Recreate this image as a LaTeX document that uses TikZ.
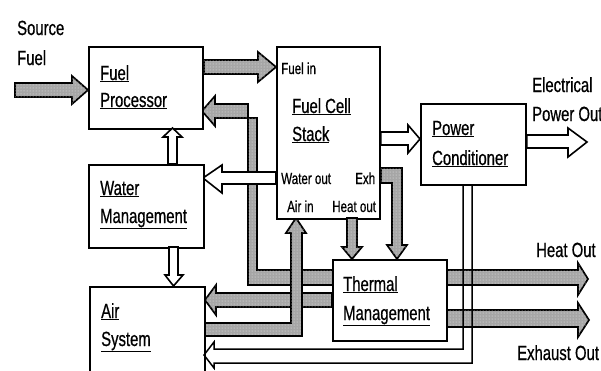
\documentclass[tikz,border=0pt]{standalone}
\usepackage{fontspec}
\setmainfont{Liberation Sans}[FakeStretch=0.725,FakeBold=0.6]
\usetikzlibrary{patterns}
\begin{document}
\begin{tikzpicture}[x=1pt,y=-1pt,
  box/.style={draw, line width=1.9pt, fill=white, inner sep=0pt, anchor=north west},
  big/.style={font=\fontsize{20.5}{24}\selectfont, inner sep=0pt, anchor=base west},
  small/.style={font=\fontsize{16}{19}\selectfont, inner sep=0pt, anchor=base west},
  garrow/.style={draw, line width=1.7pt, fill=gray!70, line join=miter,
    postaction={pattern=dots, pattern color=gray!15}},
  warrow/.style={draw, line width=1.6pt, fill=white, line join=miter},
  pipe/.style={draw, line width=1.5pt, line join=miter}]
\useasboundingbox (0,0) rectangle (601,370);
\clip (0,0) rectangle (601,370);

% named boxes (positions)
\coordinate (fpNW) at (88,46);
\coordinate (fcsNW) at (276,46);
\coordinate (pcNW) at (420,103);
\coordinate (wmNW) at (88,164);
\coordinate (asNW) at (89,286);
\coordinate (tmNW) at (332,259);

% grey band: thermal -> fuel processor, and heat out
\path[garrow] (588,279) -- (578,263) -- (578,270) -- (257,270) -- (257,118)
  -- (215,118) -- (215,126) -- (202,111) -- (215,96) -- (215,104)
  -- (248,104) -- (248,285) -- (578,285) -- (578,295) -- cycle;
% thermal -> air system
\path[garrow] (332,293) -- (216,293) -- (216,285) -- (205,300) -- (216,315)
  -- (216,307) -- (332,307) -- cycle;
% exhaust out
\path[garrow] (446,310) -- (578,310) -- (578,303) -- (589,320) -- (578,337)
  -- (578,327) -- (446,327) -- cycle;
% air in
\path[garrow] (204,323) -- (291,323) -- (291,233) -- (286,233) -- (296,218)
  -- (306,233) -- (302,233) -- (302,336) -- (204,336) -- cycle;
% water out
\path[warrow] (276,172) -- (222,172) -- (222,165) -- (203,178) -- (222,193)
  -- (222,184) -- (276,184) -- cycle;

% boxes
\node[box, minimum width=114pt, minimum height=82pt] (fp) at (fpNW) {};
\node[box, minimum width=103pt, minimum height=172pt] (fcs) at (fcsNW) {};
\node[box, minimum width=105pt, minimum height=81pt] (pc) at (pcNW) {};
\node[box, minimum width=115pt, minimum height=83pt] (wm) at (wmNW) {};
\node[box, minimum width=115pt, minimum height=110pt] (as) at (asNW) {};
\node[box, minimum width=114pt, minimum height=81pt] (tm) at (tmNW) {};

% source fuel
\path[garrow] (15,83) -- (72,83) -- (72,76) -- (fp.west |- 0,90) -- (72,104)
  -- (72,97) -- (15,97) -- cycle;
% fuel in
\path[garrow] (fp.east |- 0,60) -- (258,60) -- (258,52) -- (fcs.west |- 0,67)
  -- (258,82) -- (258,74) -- (fp.east |- 0,74) -- cycle;
% heat out (stack -> thermal)
\path[garrow] (347,218) -- (347,247) -- (342,247) -- (352,259) -- (362,247)
  -- (357,247) -- (357,218) -- cycle;
% exh
\path[garrow] (fcs.east |- 0,168) -- (402,168) -- (402,245) -- (407,245)
  -- (397,259) -- (387,245) -- (392,245) -- (392,183) -- (fcs.east |- 0,183) -- cycle;
% stack -> power conditioner
\path[warrow] (fcs.east |- 0,132) -- (408,132) -- (408,125) -- (pc.west |- 0,139)
  -- (408,153) -- (408,145) -- (fcs.east |- 0,145) -- cycle;
% electrical power out
\path[warrow] (pc.east |- 0,135) -- (568,135) -- (568,128) -- (587,142)
  -- (568,157) -- (568,148) -- (pc.east |- 0,148) -- cycle;
% water management -> fuel processor
\path[warrow] (168,164) -- (168,137) -- (163,137) -- (172.5,128) -- (182,137)
  -- (177,137) -- (177,164) -- cycle;
% water management -> air system
\path[warrow] (169,247) -- (169,275) -- (165,275) -- (173.5,286) -- (183,275)
  -- (178,275) -- (178,247) -- cycle;
% power conditioner -> air system (thin pipe)
\draw[pipe] (463,184) -- (463,349) -- (214,349) -- (214,342) -- (204,355)
  -- (214,368) -- (214,363) -- (472,363) -- (472,184);

% texts
\node[big] (t1) at (17,35) {Source};
\node[big] (t2) at (17,65) {Fuel};
\node[big] (t3) at (100,80) {\underline{Fuel}};
\node[big] (t4) at (100,107) {\underline{Processor}};
\node[small] (t5) at (281,74) {Fuel in};
\node[big] (t6) at (292,113) {\underline{Fuel Cell}};
\node[big] (t7) at (292,141) {\underline{Stack}};
\node[small] (t8) at (281,184) {Water out};
\node[small] (t9) at (355,184) {Exh};
\node[small] (t10) at (287,212) {Air in};
\node[small] (t11) at (332,212) {Heat out};
\node[big] (t12) at (432,135) {\underline{Power}};
\node[big] (t13) at (432,165) {\underline{Conditioner}};
\node[big] (t14) at (100,195) {\underline{Water}};
\node[big] (t15) at (100,223) {\underline{Management}};
\node[big] (t16) at (101,318) {\underline{Air}};
\node[big] (t17) at (101,346) {\underline{System}};
\node[big] (t18) at (343,291) {\underline{Thermal}};
\node[big] (t19) at (343,320) {\underline{Management}};
\node[big] (t20) at (532,92) {Electrical};
\node[big] (t21) at (532,121) {Power Out};
\node[big] (t22) at (536,257) {Heat Out};
\node[big] (t23) at (517,360) {Exhaust Out};
\end{tikzpicture}
\end{document}
